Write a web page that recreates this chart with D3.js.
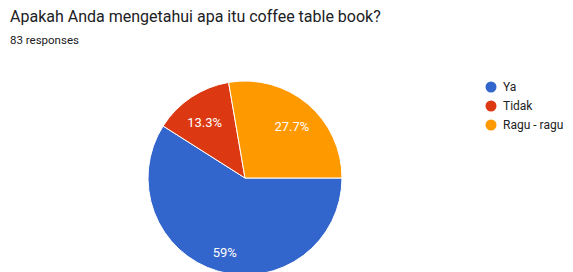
<!DOCTYPE html>
<html><head><meta charset="utf-8">
<script src="https://cdn.jsdelivr.net/npm/d3@7"></script>
<style>body{margin:0;background:#fff;}svg{display:block;font-family:Roboto, Arial, sans-serif;}</style>
</head><body>
<svg id="c" width="573" height="272"></svg>
<script>
const categories = ["Ya", "Tidak", "Ragu - ragu"];
const values = [59, 13.3, 27.7];
const labels = ["59%", "13.3%", "27.7%"];
const colors = ["#3366cc", "#dc3912", "#ff9900"];
const title = "Apakah Anda mengetahui apa itu coffee table book?";
const subtitle = "83 responses";

const svg = d3.select("#c");
svg.append("text").attr("x", 10).attr("y", 22).attr("font-size", 16).attr("fill", "#202124").text(title);
svg.append("text").attr("x", 10).attr("y", 44).attr("font-size", 11.5).attr("fill", "#202124").text(subtitle);

const cx = 245, cy = 178, r = 97;
const data = categories.map((c, i) => ({c, v: values[i], l: labels[i], col: colors[i]}));
const pie = d3.pie().value(d => d.v).sort(null).startAngle(Math.PI / 2).endAngle(Math.PI / 2 + 2 * Math.PI);
const arc = d3.arc().innerRadius(0).outerRadius(r);
const labelArc = d3.arc().innerRadius(r * 0.75).outerRadius(r * 0.75);
const g = svg.append("g").attr("transform", `translate(${cx},${cy})`);
const arcs = pie(data);
g.selectAll("path").data(arcs).join("path").attr("d", arc).attr("fill", d => d.data.col).attr("stroke", "#fff").attr("stroke-width", 1);
g.selectAll("text").data(arcs).join("text")
  .attr("transform", d => { const c = labelArc.centroid(d); return `translate(${c[0]},${c[1] + 4.5})`; })
  .attr("text-anchor", "middle").attr("dy", "0.35em").attr("font-size", 13).attr("fill", "#fff")
  .text(d => d.data.l);

const lg = svg.append("g").attr("transform", "translate(491,87)");
const row = lg.selectAll("g").data(data).join("g").attr("transform", (d, i) => `translate(0,${i * 19})`);
row.append("circle").attr("r", 5.5).attr("fill", d => d.col);
row.append("text").attr("x", 12).attr("dy", "0.35em").attr("font-size", 12).attr("fill", "#222").text(d => d.c);
</script>
</body></html>
